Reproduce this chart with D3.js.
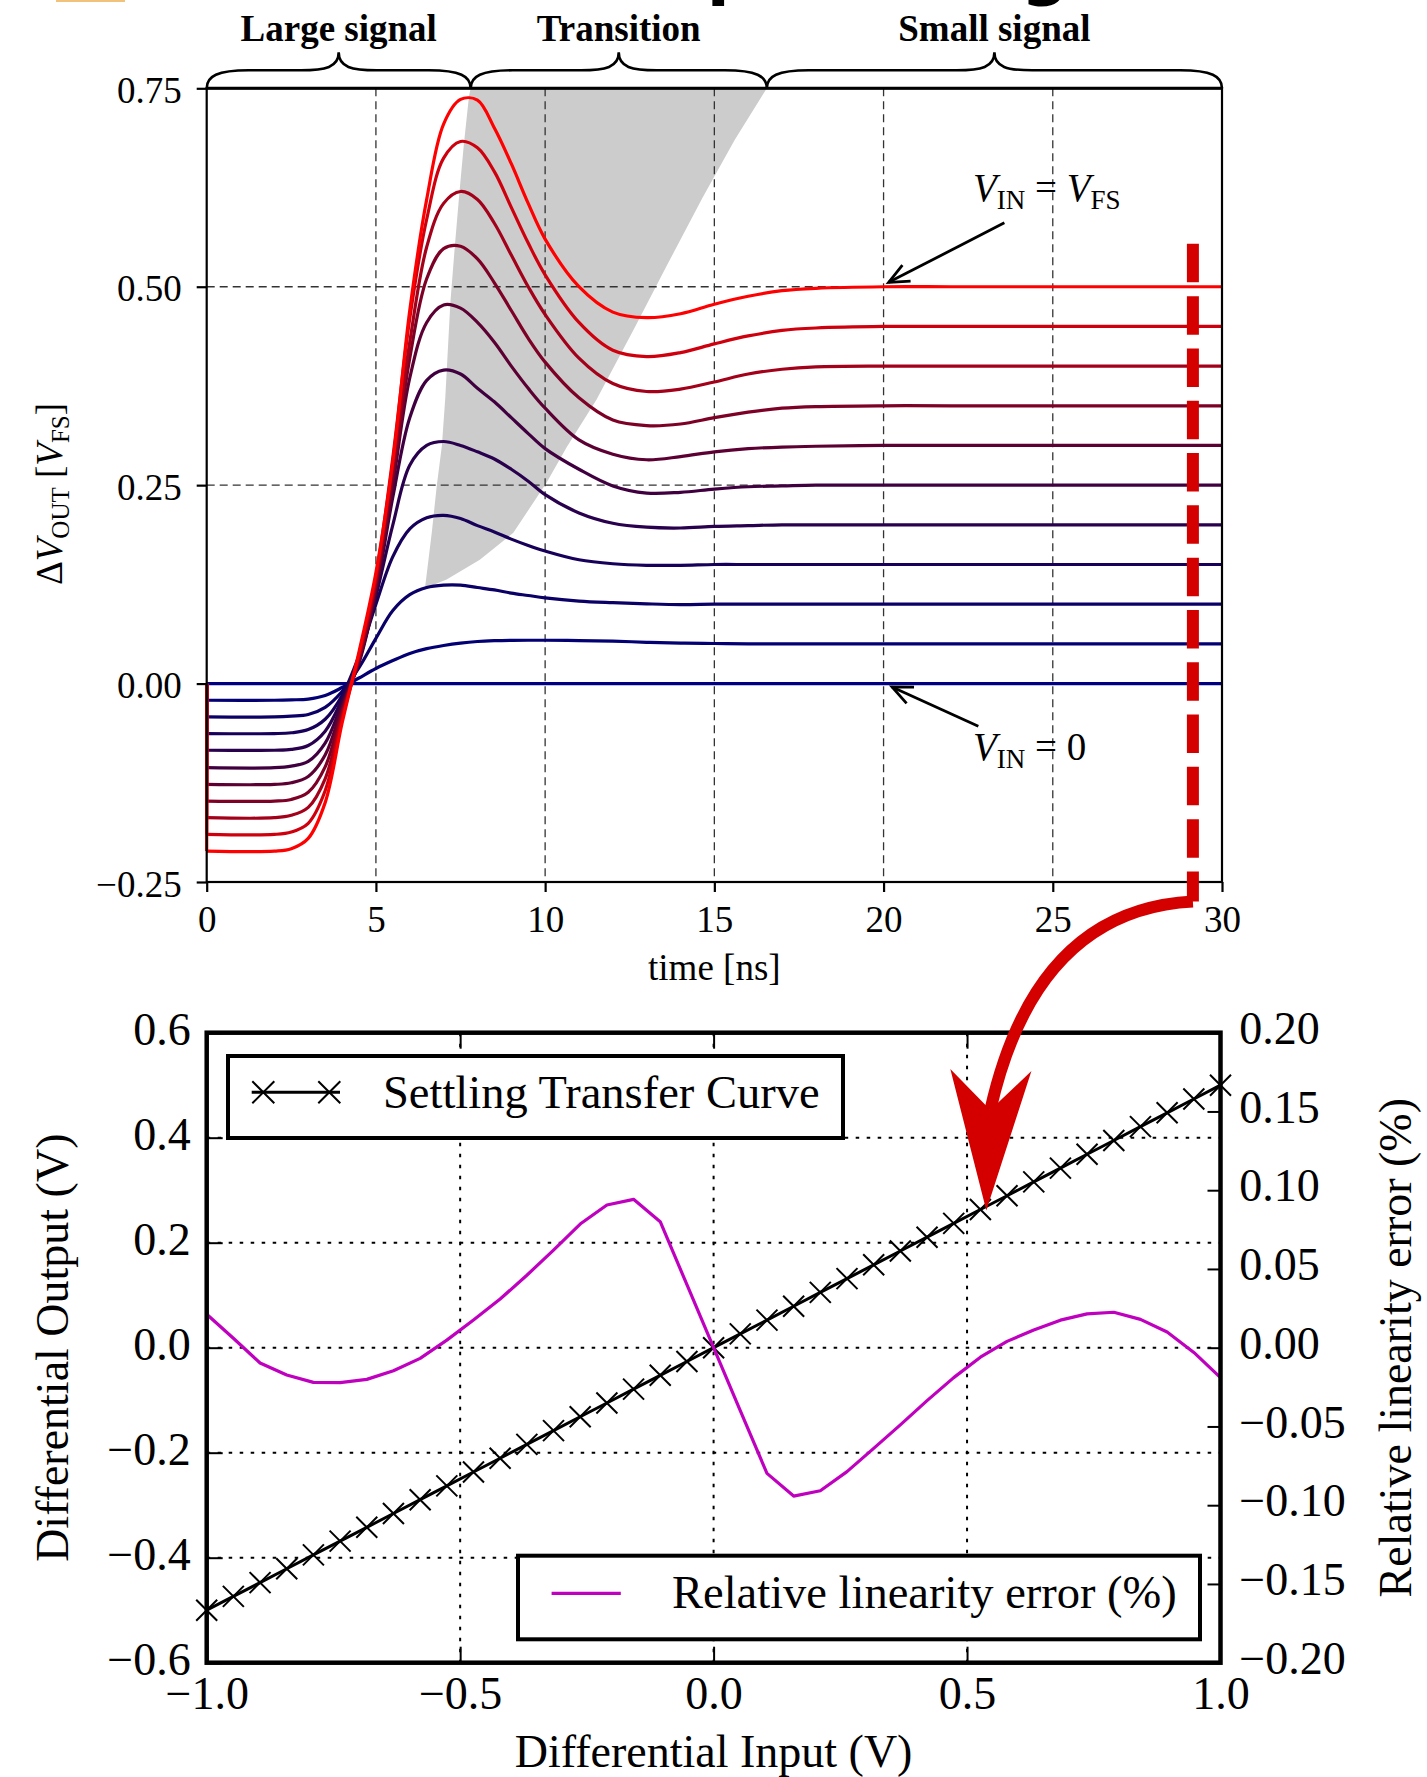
<!DOCTYPE html>
<html><head><meta charset="utf-8">
<script src="https://cdn.jsdelivr.net/npm/d3@7"></script>
<style>
html,body{margin:0;padding:0;background:#fff;}
svg{display:block;}
text{font-family:"Liberation Serif","Times New Roman",serif;fill:#000;}
text.title{font-family:"DejaVu Sans",sans-serif;font-weight:bold;}
</style></head><body>
<svg id="chart" width="1427" height="1777"></svg>
<script>
// ---------------- DATA ----------------
const timeNs = [0,2,2.5,3,3.5,4,4.5,5,5.5,6,6.5,7,7.5,8,8.5,9,9.5,10,11,12,13,14,15,16,17,18,20,22,25,30];
const vin00 = [0,0,0,0,0,0,0,0,0,0,0,0,0,0,0,0,0,0,0,0,0,0,0,0,0,0,0,0,0,0];
const vin01 = [-0.021,-0.021,-0.0205,-0.0195,-0.015,-0.005,0.007,0.019,0.029,0.038,0.044,0.048,0.051,0.053,0.054,0.0545,0.0546,0.0546,0.0542,0.0535,0.052,0.051,0.0505,0.050,0.050,0.050,0.050,0.050,0.050,0.050];
const vin02 = [-0.042,-0.042,-0.041,-0.039,-0.030,-0.010,0.020,0.057,0.092,0.112,0.121,0.124,0.124,0.121,0.118,0.114,0.111,0.108,0.104,0.102,0.1005,0.0995,0.100,0.100,0.100,0.100,0.100,0.100,0.100,0.100];
const vin03 = [-0.063,-0.063,-0.062,-0.058,-0.045,-0.015,0.035,0.100,0.160,0.195,0.209,0.212,0.208,0.199,0.191,0.182,0.174,0.167,0.156,0.151,0.149,0.149,0.150,0.150,0.150,0.150,0.150,0.150,0.150,0.150];
const vin04 = [-0.084,-0.084,-0.083,-0.078,-0.060,-0.020,0.030,0.110,0.200,0.275,0.300,0.305,0.300,0.292,0.283,0.270,0.255,0.238,0.215,0.202,0.197,0.196,0.198,0.199,0.200,0.200,0.200,0.200,0.200,0.200];
const vin05 = [-0.106,-0.106,-0.104,-0.098,-0.075,-0.025,0.026,0.115,0.235,0.335,0.382,0.395,0.390,0.372,0.355,0.335,0.315,0.296,0.270,0.249,0.240,0.241,0.245,0.248,0.249,0.250,0.250,0.250,0.250,0.250];
const vin06 = [-0.127,-0.127,-0.125,-0.117,-0.090,-0.030,0.028,0.120,0.250,0.385,0.455,0.477,0.473,0.455,0.430,0.400,0.372,0.347,0.307,0.289,0.282,0.286,0.292,0.296,0.298,0.299,0.300,0.300,0.300,0.300];
const vin07 = [-0.148,-0.148,-0.146,-0.137,-0.105,-0.035,0.031,0.125,0.262,0.410,0.510,0.548,0.551,0.535,0.505,0.470,0.435,0.405,0.360,0.332,0.325,0.327,0.335,0.342,0.347,0.349,0.350,0.350,0.350,0.350];
const vin08 = [-0.169,-0.169,-0.166,-0.156,-0.120,-0.040,0.034,0.130,0.275,0.430,0.550,0.605,0.620,0.610,0.580,0.540,0.500,0.465,0.410,0.378,0.368,0.371,0.380,0.390,0.396,0.399,0.400,0.400,0.400,0.400];
const vin09 = [-0.190,-0.190,-0.187,-0.176,-0.135,-0.045,0.037,0.135,0.285,0.460,0.585,0.662,0.683,0.675,0.645,0.600,0.555,0.515,0.455,0.420,0.412,0.417,0.428,0.438,0.445,0.448,0.450,0.450,0.450,0.450];
const vin10 = [-0.211,-0.211,-0.208,-0.195,-0.150,-0.050,0.040,0.140,0.280,0.470,0.610,0.705,0.736,0.735,0.700,0.655,0.605,0.560,0.500,0.468,0.461,0.466,0.478,0.488,0.495,0.498,0.500,0.500,0.500,0.500];

// shaded "transition" region (time ns, V/VFS)
const grayLeftEdge  = [[6.45,0.12],[6.65,0.19],[6.8,0.25],[6.95,0.30],[7.05,0.36],[7.1,0.40],[7.2,0.48],[7.33,0.55],[7.47,0.62],[7.6,0.68],[7.75,0.74],[7.8,0.75]];
const grayRightEdge = [[16.55,0.75],[15.6,0.685],[14.65,0.612],[13.6,0.527],[12.64,0.448],[11.52,0.358],[10.64,0.298],[10.04,0.253],[9.06,0.19],[8.07,0.156],[7.09,0.131],[6.45,0.12]];

const regionBounds = [0, 7.8, 16.55, 30];
const regionLabels = ["Large signal", "Transition", "Small signal"];

const xTicksTop = [0,5,10,15,20,25,30];
const yTicksTop = [-0.25,0,0.25,0.5,0.75];

// annotations (data coords of the top chart)
const annotTextPos   = [[22.64,0.6077],[22.64,-0.0958]];
const annotArrowFrom = [[23.57,0.5805],[22.8,-0.0538]];
const annotArrowTo   = [[20.15,0.5055],[20.25,-0.0042]];
const markerTime = 29.14;
const markerRange = [0.554, -0.2747];

// bottom chart
const diffInput = [-1.0000,-0.9474,-0.8947,-0.8421,-0.7895,-0.7368,-0.6842,-0.6316,-0.5789,-0.5263,-0.4737,-0.4211,-0.3684,-0.3158,-0.2632,-0.2105,-0.1579,-0.1053,-0.0526,0,0.0526,0.1053,0.1579,0.2105,0.2632,0.3158,0.3684,0.4211,0.4737,0.5263,0.5789,0.6316,0.6842,0.7368,0.7895,0.8421,0.8947,0.9474,1.0000];
const diffOutput = [-0.5000,-0.4737,-0.4474,-0.4211,-0.3947,-0.3684,-0.3421,-0.3158,-0.2895,-0.2632,-0.2368,-0.2105,-0.1842,-0.1579,-0.1316,-0.1053,-0.0789,-0.0526,-0.0263,0,0.0263,0.0526,0.0789,0.1053,0.1316,0.1579,0.1842,0.2105,0.2368,0.2632,0.2895,0.3158,0.3421,0.3684,0.3947,0.4211,0.4474,0.4737,0.5000];
const linError = [0.0212,0.0060,-0.0097,-0.0173,-0.0220,-0.0222,-0.0201,-0.0146,-0.0068,0.0048,0.0176,0.0309,0.0460,0.0620,0.0785,0.0906,0.0942,0.0800,0.0400,0.0000,-0.0400,-0.0798,-0.0942,-0.0908,-0.0787,-0.0639,-0.0490,-0.0336,-0.0190,-0.0060,0.0040,0.0112,0.0175,0.0215,0.0225,0.0180,0.0100,-0.0030,-0.0190];

const xTicksBottom = [-1,-0.5,0,0.5,1];
const yTicksLeft = [-0.6,-0.4,-0.2,0,0.2,0.4,0.6];
const yTicksRight = [-0.2,-0.15,-0.1,-0.05,0,0.05,0.1,0.15,0.2];

// big red arrow (bottom-chart coords)
const arrowCtrl = [0.635, 0.834];
const arrowNotch = [0.546, 0.4528];
const arrowHead = [[0.467,0.531],[0.546,0.4528],[0.627,0.527],[0.538,0.2613]];

// ---------------- STYLE / LAYOUT ----------------
const curveColors = ["#000080","#030073","#0a0066","#17005a","#29004d","#400040","#5c0033","#7d0026","#a3001a","#cf000d","#ff0000"];
const series = [vin00,vin01,vin02,vin03,vin04,vin05,vin06,vin07,vin08,vin09,vin10];
const SERIF = "Liberation Serif, Times New Roman, serif";

const svg = d3.select("#chart");

const xT = d3.scaleLinear().domain([0,30]).range([206.7,1222]);
const yT = d3.scaleLinear().domain([-0.25,0.75]).range([882,88.3]);
const xB = d3.scaleLinear().domain([-1,1]).range([206.7,1220.5]);
const yB = d3.scaleLinear().domain([-0.6,0.6]).range([1662.7,1032.7]);
const yR = d3.scaleLinear().domain([-0.2,0.2]).range([1662.7,1032.7]);

// fragments of the slide header cut off by the top edge
svg.append("rect").attr("x",56).attr("y",0).attr("width",69).attr("height",2).attr("fill","#f0c27b");
svg.append("text").attr("class","title").attr("x",581).attr("y",-8.5).attr("font-size",67).text("Step settling");

// ===== TOP CHART =====
const gT = svg.append("g");
const lineXY = (sx, sy) => d3.line().x(d=>sx(d[0])).y(d=>sy(d[1]));

gT.append("path").datum(grayLeftEdge.concat(grayRightEdge))
  .attr("d", lineXY(xT,yT).curve(d3.curveLinearClosed))
  .attr("fill","#cccccc").attr("stroke","none");

// grid
gT.append("g").selectAll("line").data(xTicksTop.slice(1,-1)).join("line")
  .attr("x1",d=>xT(d)).attr("x2",d=>xT(d)).attr("y1",yT(0.75)).attr("y2",yT(-0.25))
  .attr("stroke","#333").attr("stroke-width",1.3).attr("stroke-dasharray","8,5");
gT.append("g").selectAll("line").data([0,0.25,0.5]).join("line")
  .attr("y1",d=>yT(d)).attr("y2",d=>yT(d)).attr("x1",xT(0)).attr("x2",xT(30))
  .attr("stroke","#333").attr("stroke-width",1.3).attr("stroke-dasharray","8,5");

// curves
series.forEach((vals,i)=>{
  const pts = timeNs.map((t,j)=>[t,vals[j]]);
  gT.append("path").datum([[0,0],[0,vals[0]]])
    .attr("d", lineXY(xT,yT)).attr("fill","none")
    .attr("stroke",curveColors[i]).attr("stroke-width",3.2);
  gT.append("path").datum(pts)
    .attr("d", lineXY(xT,yT).curve(d3.curveCatmullRom.alpha(0.5)))
    .attr("fill","none").attr("stroke",curveColors[i]).attr("stroke-width",3.2)
    .attr("stroke-linejoin","round");
});

// spines
gT.append("rect").attr("x",xT(0)).attr("y",yT(0.75)).attr("width",xT(30)-xT(0)).attr("height",yT(-0.25)-yT(0.75))
  .attr("fill","none").attr("stroke","#000").attr("stroke-width",2.2);
gT.append("line").attr("x1",xT(0)).attr("x2",xT(30)).attr("y1",yT(0.75)).attr("y2",yT(0.75)).attr("stroke","#000").attr("stroke-width",3);

// axes
const axL = gT.append("g").attr("transform",`translate(${xT(0)},0)`)
  .call(d3.axisLeft(yT).tickValues(yTicksTop).tickSize(10).tickFormat(d3.format(".2f")));
axL.select(".domain").remove();
axL.selectAll("line").attr("stroke-width",2.2);
axL.selectAll("text").attr("x",-25).attr("dy",null).attr("y",14).attr("font-size",37).attr("font-family",SERIF);

const axBt = gT.append("g").attr("transform",`translate(0,${yT(-0.25)})`)
  .call(d3.axisBottom(xT).tickValues(xTicksTop).tickSize(10).tickFormat(d3.format("d")));
axBt.select(".domain").remove();
axBt.selectAll("line").attr("stroke-width",2.2);
axBt.selectAll("text").attr("y",49.7).attr("dy",null).attr("font-size",37).attr("font-family",SERIF);

// axis labels
gT.append("text").attr("x",xT(15)).attr("y",980).attr("text-anchor","middle").attr("font-size",37).text("time [ns]");
const yl = gT.append("text").attr("transform",`translate(62,494) rotate(-90)`).attr("text-anchor","middle").attr("font-size",37);
yl.append("tspan").text("Δ");
yl.append("tspan").attr("font-style","italic").text("V");
yl.append("tspan").attr("font-size",25).attr("dy",7).text("OUT");
yl.append("tspan").attr("dy",-7).text(" [");
yl.append("tspan").attr("font-style","italic").text("V");
yl.append("tspan").attr("font-size",25).attr("dy",7).text("FS");
yl.append("tspan").attr("dy",-7).text("]");

// braces
function bracePath(x1,x2,yb){
  const ym = yb-18, yt = yb-36, xm=(x1+x2)/2, a=42, b=38;
  return `M${x1},${yb} C${x1},${yb-12} ${x1+a*0.25},${ym} ${x1+a},${ym} L${xm-b},${ym} C${xm-b*0.35},${ym} ${xm},${ym-3} ${xm},${yt} `+
         `C${xm},${ym-3} ${xm+b*0.35},${ym} ${xm+b},${ym} L${x2-a},${ym} C${x2-a*0.25},${ym} ${x2},${yb-12} ${x2},${yb}`;
}
regionLabels.forEach((lab,i)=>{
  const x1 = xT(regionBounds[i]), x2 = xT(regionBounds[i+1]);
  gT.append("path").attr("d",bracePath(x1,x2,yT(0.75))).attr("fill","none").attr("stroke","#000").attr("stroke-width",2.6);
  gT.append("text").attr("x",(x1+x2)/2).attr("y",41).attr("text-anchor","middle")
    .attr("font-size",37).attr("font-weight","bold").text(lab);
});

// annotations
function openArrow(g, from, to){
  const x0=xT(from[0]), y0=yT(from[1]), x1=xT(to[0]), y1=yT(to[1]);
  g.append("line").attr("x1",x0).attr("y1",y0).attr("x2",x1).attr("y2",y1).attr("stroke","#000").attr("stroke-width",2.8);
  const ang = Math.atan2(y0-y1,x0-x1), L=22, w=0.42;
  const p1=[x1+L*Math.cos(ang+w), y1+L*Math.sin(ang+w)], p2=[x1+L*Math.cos(ang-w), y1+L*Math.sin(ang-w)];
  g.append("path").attr("d",`M${p1[0]},${p1[1]} L${x1},${y1} L${p2[0]},${p2[1]}`).attr("fill","none").attr("stroke","#000").attr("stroke-width",2.8);
}
annotArrowFrom.forEach((f,i)=>openArrow(gT,f,annotArrowTo[i]));
function vinLabel(pos, rhsItalic, rhsMain, rhsSub){
  const t = gT.append("text").attr("x",xT(pos[0])).attr("y",yT(pos[1])).attr("font-size",39);
  t.append("tspan").attr("font-style","italic").text("V");
  t.append("tspan").attr("font-size",27).attr("dy",8).text("IN");
  t.append("tspan").attr("dy",-8).text(" = ");
  if(rhsItalic){
    t.append("tspan").attr("font-style","italic").text(rhsMain);
    t.append("tspan").attr("font-size",27).attr("dy",8).text(rhsSub);
  } else t.append("tspan").text(rhsMain);
}
vinLabel(annotTextPos[0], true, "V", "FS");
vinLabel(annotTextPos[1], false, "0", "");

// ===== BOTTOM CHART =====
const gB = svg.append("g");
// grid
gB.append("g").selectAll("line").data(xTicksBottom.slice(1,-1)).join("line")
  .attr("x1",d=>xB(d)).attr("x2",d=>xB(d)).attr("y1",yB(0.6)).attr("y2",yB(-0.6))
  .attr("stroke","#000").attr("stroke-width",2).attr("stroke-dasharray","3.5,7.5");
gB.append("g").selectAll("line").data(yTicksLeft.slice(1,-1)).join("line")
  .attr("y1",d=>yB(d)).attr("y2",d=>yB(d)).attr("x1",xB(-1)).attr("x2",xB(1))
  .attr("stroke","#000").attr("stroke-width",2).attr("stroke-dasharray","3.5,7.5");

// transfer curve
const tPts = diffInput.map((x,i)=>[x,diffOutput[i]]);
gB.append("path").datum(tPts).attr("d",lineXY(xB,yB)).attr("fill","none").attr("stroke","#000").attr("stroke-width",3);
const crossPath = h => `M${-h},${-h} L${h},${h} M${-h},${h} L${h},${-h}`;
gB.append("g").selectAll("path").data(tPts).join("path")
  .attr("transform",d=>`translate(${xB(d[0])},${yB(d[1])})`).attr("d",crossPath(10.5))
  .attr("stroke","#000").attr("stroke-width",2).attr("fill","none");

// legend 1
gB.append("rect").attr("x",228).attr("y",1056).attr("width",615).attr("height",82).attr("fill","#fff").attr("stroke","#000").attr("stroke-width",4);
gB.append("line").attr("x1",251.7).attr("x2",340).attr("y1",1092.3).attr("y2",1092.3).attr("stroke","#000").attr("stroke-width",3);
[263.3,329.3].forEach(x=>gB.append("path").attr("transform",`translate(${x},1092.3)`).attr("d",crossPath(11)).attr("stroke","#000").attr("stroke-width",2));
gB.append("text").attr("x",383).attr("y",1108).attr("font-size",46.5).text("Settling Transfer Curve");

// magenta error curve (right axis)
const ePts = diffInput.map((x,i)=>[x,linError[i]]);
gB.append("path").datum(ePts).attr("d",lineXY(xB,yR)).attr("fill","none").attr("stroke","#bf00bf").attr("stroke-width",3.2).attr("stroke-linejoin","round");

// legend 2
gB.append("rect").attr("x",518).attr("y",1555.7).attr("width",682).attr("height",83.6).attr("fill","#fff").attr("stroke","#000").attr("stroke-width",4);
gB.append("line").attr("x1",551.6).attr("x2",620.8).attr("y1",1593.3).attr("y2",1593.3).attr("stroke","#bf00bf").attr("stroke-width",3.2);
gB.append("text").attr("x",672).attr("y",1608).attr("font-size",46.5).text("Relative linearity error (%)");

// frame
gB.append("rect").attr("x",xB(-1)).attr("y",yB(0.6)).attr("width",xB(1)-xB(-1)).attr("height",yB(-0.6)-yB(0.6))
  .attr("fill","none").attr("stroke","#000").attr("stroke-width",4.5);

// ticks
const fmt1 = d3.format(".1f"), fmt2 = d3.format(".2f");
const axBB = gB.append("g").attr("transform",`translate(0,${yB(-0.6)})`)
  .call(d3.axisBottom(xB).tickValues(xTicksBottom).tickSize(-16).tickFormat(fmt1));
axBB.select(".domain").remove();
axBB.selectAll("line").attr("stroke-width",2);
axBB.selectAll("text").attr("y",46.3).attr("dy",null).attr("font-size",46).attr("font-family",SERIF);
const axBTop = gB.append("g").attr("transform",`translate(0,${yB(0.6)})`)
  .call(d3.axisTop(xB).tickValues(xTicksBottom).tickSize(-16).tickFormat(""));
axBTop.select(".domain").remove();
axBTop.selectAll("line").attr("stroke-width",2);
const axLL = gB.append("g").attr("transform",`translate(${xB(-1)},0)`)
  .call(d3.axisLeft(yB).tickValues(yTicksLeft).tickSize(-16).tickFormat(fmt1));
axLL.select(".domain").remove();
axLL.selectAll("line").attr("stroke-width",2);
axLL.selectAll("text").attr("x",-16).attr("dy",null).attr("y",11.3).attr("font-size",46).attr("font-family",SERIF);
const axRR = gB.append("g").attr("transform",`translate(${xB(1)},0)`)
  .call(d3.axisRight(yR).tickValues(yTicksRight).tickSize(-13).tickFormat(fmt2));
axRR.select(".domain").remove();
axRR.selectAll("line").attr("stroke-width",2);
axRR.selectAll("text").attr("x",18.8).attr("dy",null).attr("y",10.6).attr("font-size",46).attr("font-family",SERIF);

// axis labels
gB.append("text").attr("x",xB(0)).attr("y",1767).attr("text-anchor","middle").attr("font-size",46).text("Differential Input (V)");
gB.append("text").attr("transform",`translate(68,${yB(0)}) rotate(-90)`).attr("text-anchor","middle").attr("font-size",46).text("Differential Output (V)");
gB.append("text").attr("transform",`translate(1411,${yB(0)}) rotate(-90)`).attr("text-anchor","middle").attr("font-size",46).text("Relative linearity error (%)");

// ===== RED MARKER + CURVED ARROW =====
const red = "#d40000";
svg.append("line").attr("x1",xT(markerTime)).attr("x2",xT(markerTime)).attr("y1",yT(markerRange[0])).attr("y2",yT(markerRange[1]))
  .attr("stroke",red).attr("stroke-width",12).attr("stroke-dasharray","38.5,13.8");
const p0=[xT(markerTime),yT(markerRange[1])], pc=[xB(arrowCtrl[0]),yB(arrowCtrl[1])], pn=[xB(arrowNotch[0]),yB(arrowNotch[1])];
svg.append("path").attr("d",`M${p0[0]},${p0[1]} Q${pc[0]},${pc[1]} ${pn[0]},${pn[1]}`)
  .attr("fill","none").attr("stroke",red).attr("stroke-width",12);
svg.append("path").datum(arrowHead).attr("d",lineXY(xB,yB).curve(d3.curveLinearClosed)).attr("fill",red).attr("stroke","none");
</script>
</body></html>
